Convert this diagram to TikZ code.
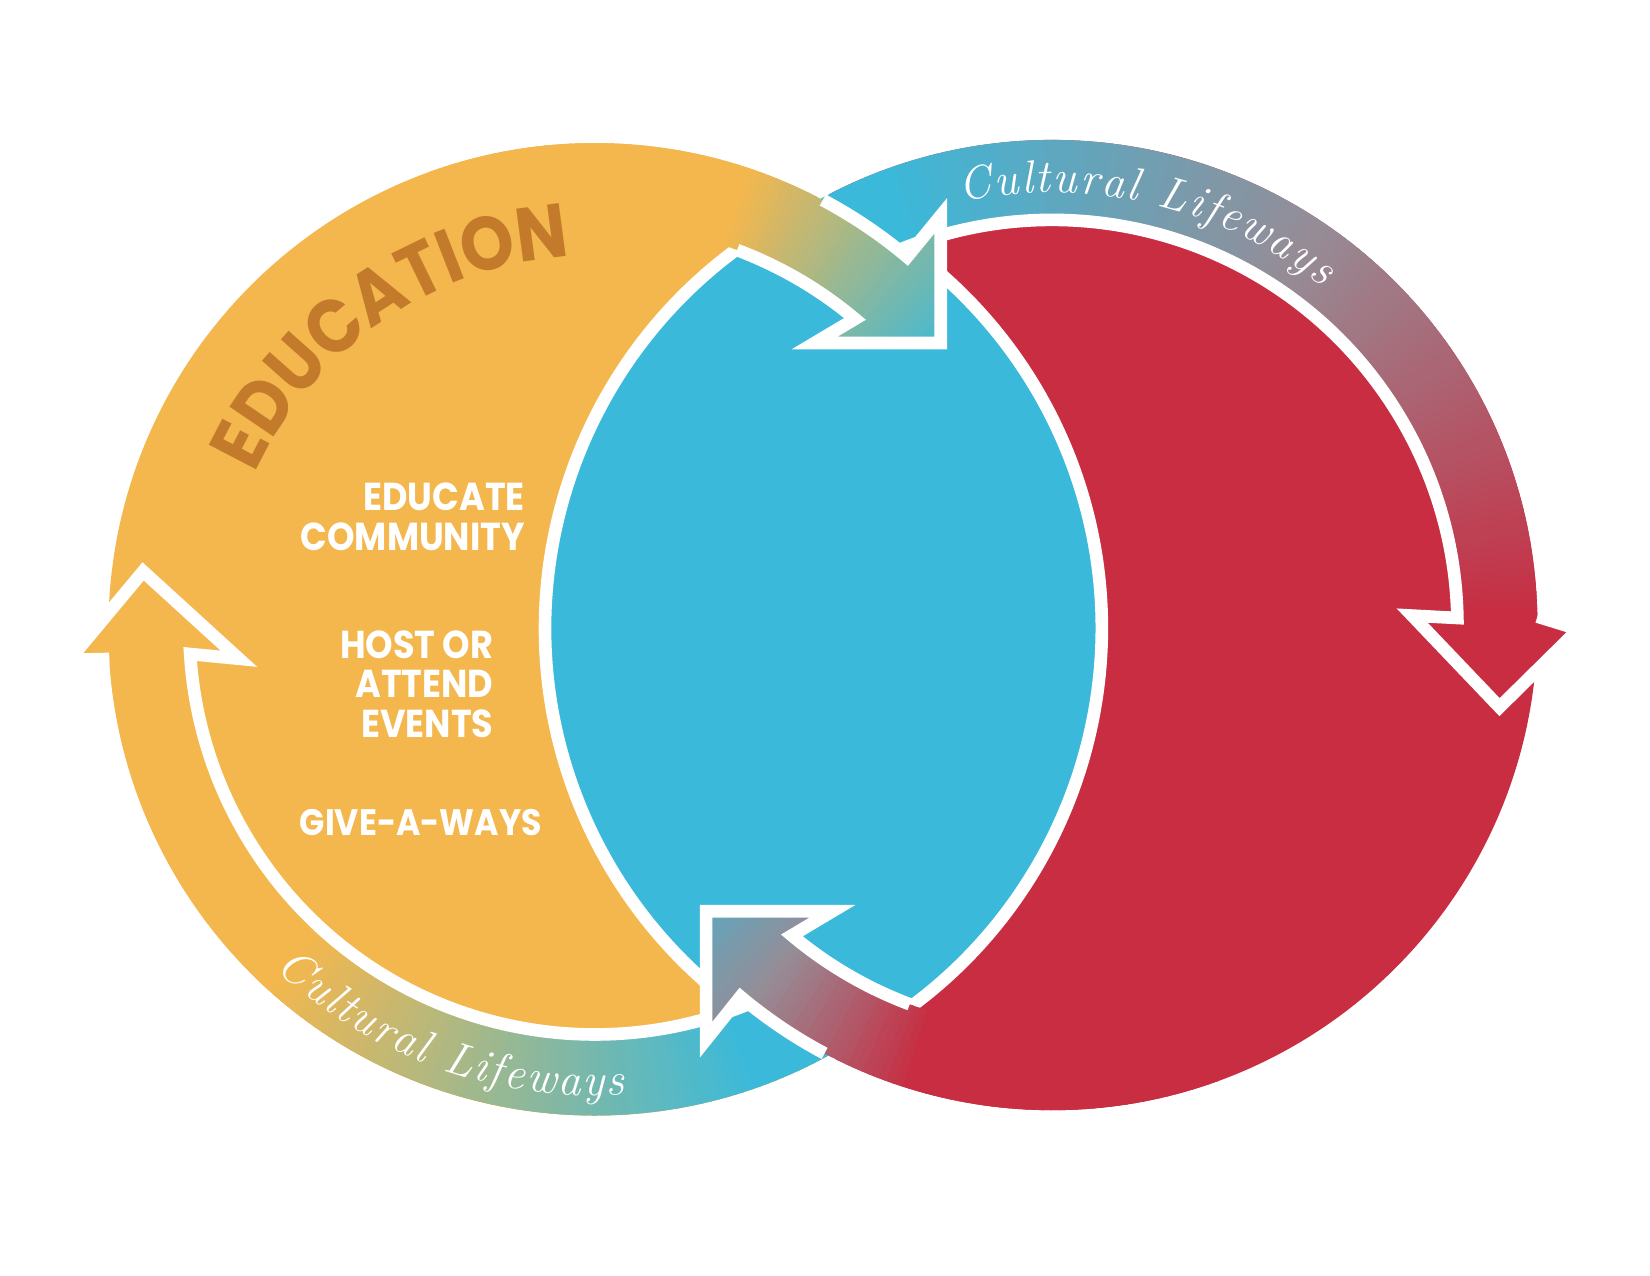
\documentclass[tikz,border=0pt]{standalone}
\usepackage{fontspec}
\usepackage{tikz}
\usetikzlibrary{decorations.text}

\newfontfamily\popfont{Poppins}[FakeStretch=0.9]
\definecolor{yel}{RGB}{243,183,78}
\definecolor{blu}{RGB}{58,185,218}
\definecolor{rd}{RGB}{200,45,66}
\definecolor{gry}{RGB}{150,140,150}
\definecolor{brn}{RGB}{196,122,43}

\newcommand{\lens}{(782.5,189) arc[start angle=245.9, end angle=114.1, radius=447] arc[start angle=65.9, end angle=-65.9, radius=447] -- cycle}
\newcommand{\bandA}{([shift={(A)}]58:462) arc[start angle=58, end angle=176.5, radius=462] -- (lA1) -- (lA2) -- (lA3) -- ([shift={(A)}]176.5:385) arc[start angle=176.5, end angle=58, radius=385] -- cycle}
\newcommand{\bandB}{([shift={(B)}]238:461) arc[start angle=238, end angle=359, radius=461] -- (rB1) -- (rB2) -- (rB3) -- ([shift={(B)}]359:385) arc[start angle=359, end angle=238, radius=385] -- cycle}
\newcommand{\arrowA}{([shift={(A)}]250:462) arc[start angle=250, end angle=310, radius=462] -- (tA1) -- (tA2) -- (tA3) -- ([shift={(A)}]310:385) arc[start angle=310, end angle=250, radius=385] -- cycle}
\newcommand{\arrowB}{([shift={(B)}]70:461) arc[start angle=70, end angle=130, radius=461] -- (bB1) -- (bB2) -- (bB3) -- ([shift={(B)}]130:385) arc[start angle=130, end angle=70, radius=385] -- cycle}
% blue -> grey -> red, #1 from 0 to 100
\newcommand{\bluered}[1]{\ifnum#1<50 \pgfmathtruncatemacro{\u}{2*#1}\colorlet{wc}{gry!\u!blu}\else \pgfmathtruncatemacro{\u}{2*#1-100}\colorlet{wc}{rd!\u!gry}\fi}

\begin{document}
\begin{tikzpicture}[x=1pt, y=-1pt, wline/.style={white, line width=12},
    lbl/.style={text=white, font=\popfont\bfseries\fontsize{37}{37.5}\selectfont, align=right, inner sep=0pt}]

\useasboundingbox (0,0) rectangle (1568,1212);
\fill[white] (0,0) rectangle (1568,1212);

\coordinate (A) at (565,598);
\coordinate (B) at (1000,594);
\coordinate (lA1) at (66,627);
\coordinate (lA2) at (136,543);
\coordinate (lA3) at (227,626);
\coordinate (rB1) at (1500,598);
\coordinate (rB2) at (1425,672);
\coordinate (rB3) at (1342,585);
\coordinate (tA1) at (894,205);
\coordinate (tA2) at (894,326);
\coordinate (tA3) at (774,326);
\coordinate (bB1) at (671,988);
\coordinate (bB2) at (671,866);
\coordinate (bB3) at (791,866);

\fill[yel] (A) circle[radius=462];
\fill[rd] (B) circle[radius=461];
\fill[blu] \lens;
\draw[wline] \lens;

% lower band, yellow to blue
\begin{scope}
  \clip \bandA;
  \fill[yel] (0,0) rectangle (1568,1212);
  \foreach \a in {56,...,134} {
    \pgfmathtruncatemacro{\t}{min(100,max(0,(132-\a)*100/62))}
    \fill[blu!\t!yel] (A) -- ([shift={(A)}]\a:560) arc[start angle=\a, delta angle=1.3, radius=560] -- cycle;
  }
\end{scope}
\draw[wline] ([shift={(A)}]58:385) arc[start angle=58, end angle=176.5, radius=385] -- (lA3) -- (lA2) -- (lA1) -- ([shift={(A)}]176.5:462);

% upper band, blue to red
\begin{scope}
  \clip \bandB;
  \foreach \a in {236,...,380} {
    \pgfmathtruncatemacro{\t}{min(100,max(0,(\a-248)*100/110))}
    \bluered{\t}
    \fill[wc] (B) -- ([shift={(B)}]\a:560) arc[start angle=\a, delta angle=1.3, radius=560] -- cycle;
  }
\end{scope}
\draw[wline] ([shift={(B)}]238:385) arc[start angle=238, end angle=359, radius=385] -- (rB3) -- (rB2) -- (rB1) -- ([shift={(B)}]359:461);

% top arrow into the middle
\begin{scope}
  \clip \arrowA;
  \foreach \a in {248,...,332} {
    \pgfmathtruncatemacro{\t}{min(100,max(0,(\a-288)*100/34))}
    \fill[blu!\t!yel] (A) -- ([shift={(A)}]\a:560) arc[start angle=\a, delta angle=1.3, radius=560] -- cycle;
  }
\end{scope}
\draw[wline] ([shift={(A)}]298:462) arc[start angle=298, end angle=310, radius=462] -- (tA1) -- (tA2) -- (tA3) -- ([shift={(A)}]310:385) arc[start angle=310, end angle=290.6, radius=385];

% bottom arrow into the middle
\begin{scope}
  \clip \arrowB;
  \foreach \a in {68,...,152} {
    \pgfmathtruncatemacro{\t}{100-min(100,max(0,(\a-107)*100/42))}
    \bluered{\t}
    \fill[wc] (B) -- ([shift={(B)}]\a:560) arc[start angle=\a, delta angle=1.3, radius=560] -- cycle;
  }
\end{scope}
\draw[wline] ([shift={(B)}]118:461) arc[start angle=118, end angle=130, radius=461] -- (bB1) -- (bB2) -- (bB3) -- ([shift={(B)}]130:385) arc[start angle=130, end angle=110.6, radius=385];

% texts
\path[decorate, decoration={text along path, text align=center,
    text={|\popfont\bfseries\fontsize{72}{72}\selectfont\color{brn}|EDUCATION}}]
  ([shift={(A)}]200.5:355) arc[start angle=200.5, end angle=270.5, radius=355];
\path[decorate, decoration={text along path, text align=center,
    text={|\fontsize{44}{44}\selectfont\itshape\color{white}\kern2pt|Cultural Lifeways}}]
  ([shift={(B)}]253.1:411) arc[start angle=253.1, end angle=313.1, radius=411];
\path[decorate, decoration={text along path, text align=center,
    text={|\fontsize{44}{44}\selectfont\itshape\color{white}\kern2pt|Cultural Lifeways}}]
  ([shift={(A)}]139.9:443) arc[start angle=139.9, end angle=79.9, radius=443];

\node[lbl, anchor=east] (educ) at (499,491) {EDUCATE\\COMMUNITY};
\node[lbl, anchor=east] (host) at (469,650) {HOST OR\\ATTEND\\EVENTS};
\node[lbl, font=\popfont\bfseries\fontsize{35}{37.5}\selectfont] (give) at (400,782) {GIVE-A-WAYS};
\end{tikzpicture}
\end{document}
